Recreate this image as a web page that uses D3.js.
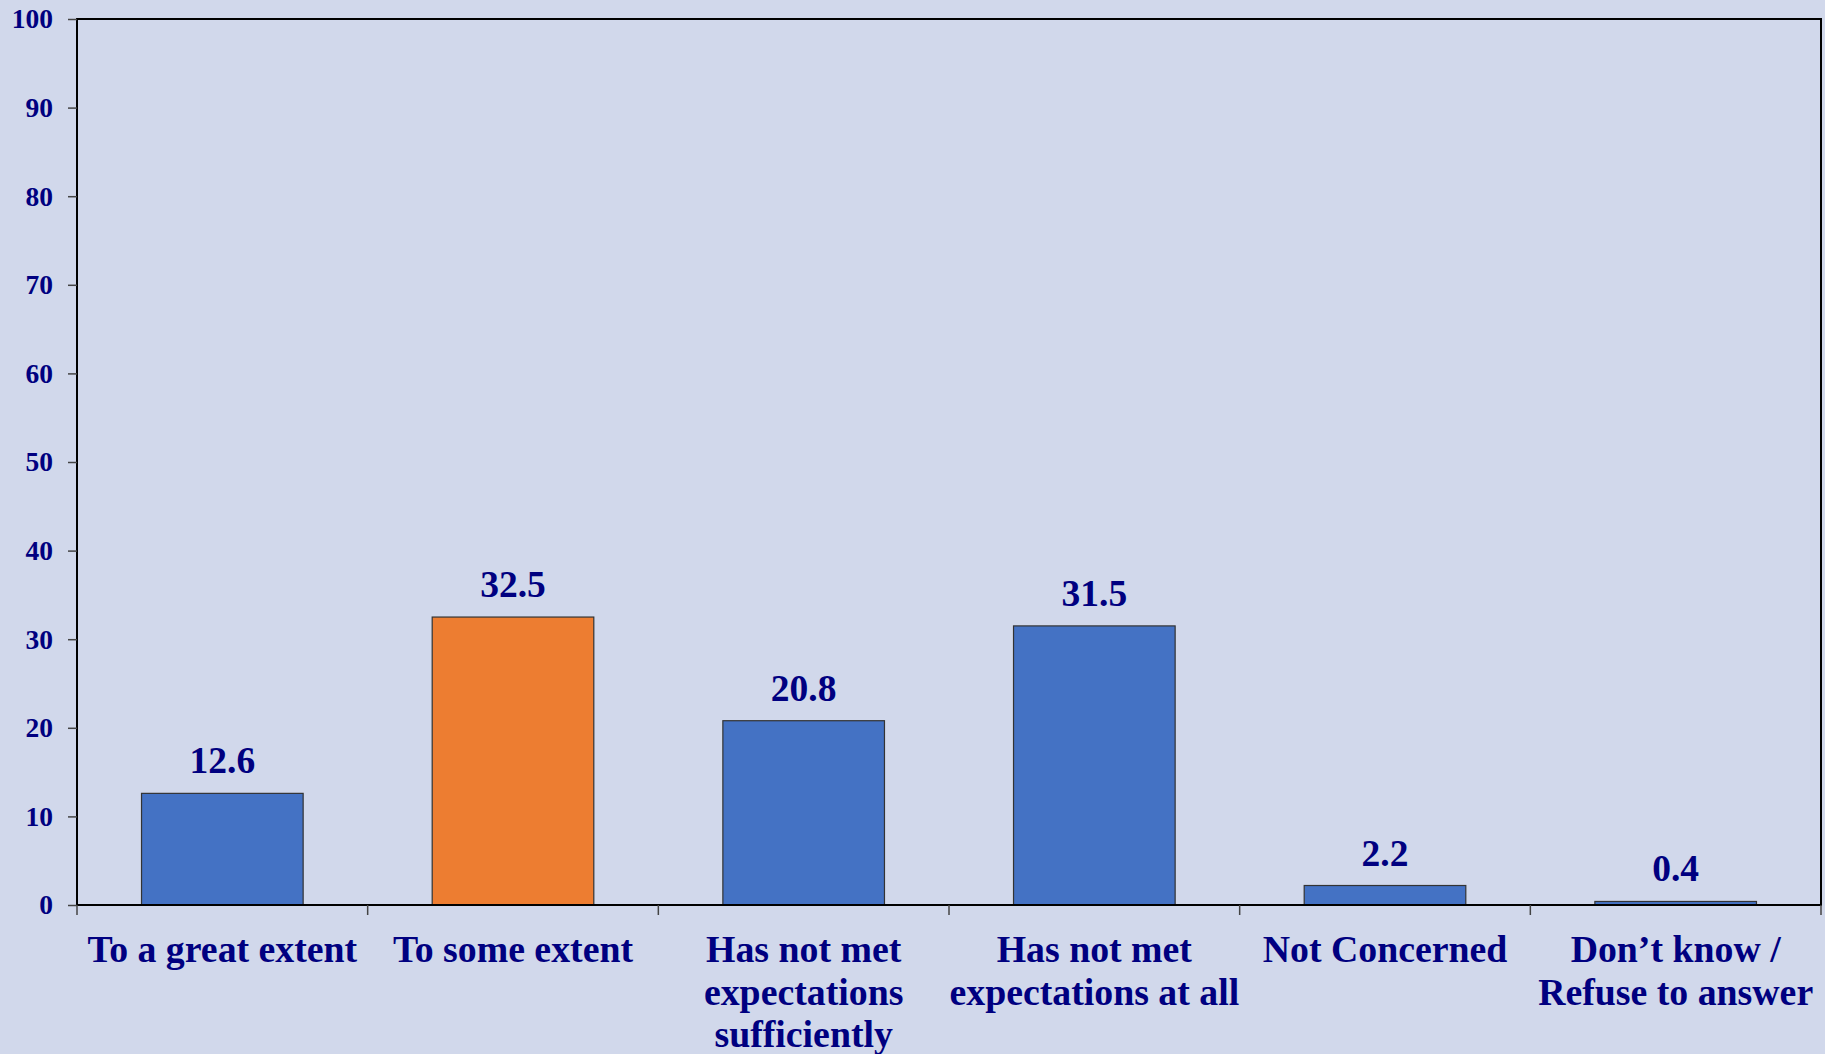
<!DOCTYPE html>
<html><head><meta charset="utf-8">
<script src="https://cdn.jsdelivr.net/npm/d3@7"></script>
<style>
html,body{margin:0;padding:0;background:#D1D8EB;}
svg{display:block;}
</style></head><body>
<svg id="chart" width="1825" height="1054"></svg>
<script>
const categories = [
  ["To a great extent"],
  ["To some extent"],
  ["Has not met", "expectations", "sufficiently"],
  ["Has not met", "expectations at all"],
  ["Not Concerned"],
  ["Don\u2019t know /", "Refuse to answer"]
];
const values = [12.6, 32.5, 20.8, 31.5, 2.2, 0.4];
const barColors = ["#4472C4", "#ED7D31", "#4472C4", "#4472C4", "#4472C4", "#4472C4"];
const yTicks = [0, 10, 20, 30, 40, 50, 60, 70, 80, 90, 100];

const W = 1825, H = 1054;
const m = {left: 77, right: 4, top: 19, bottom: 149};
const svg = d3.select("#chart");
const font = "'Liberation Serif','Times New Roman',serif";
const navy = "#000080";

const x = d3.scaleBand().domain(d3.range(values.length))
  .range([m.left, W - m.right]).paddingInner(0.444).paddingOuter(0.222);
const xb = d3.scaleBand().domain(d3.range(values.length)).range([m.left, W - m.right]);
const y = d3.scaleLinear().domain([0, 100]).range([H - m.bottom, m.top]);

svg.append("rect").attr("width", W).attr("height", H).attr("fill", "#D1D8EB");

// bars
svg.selectAll(".bar").data(values).join("rect")
  .attr("x", (d, i) => x(i)).attr("width", x.bandwidth())
  .attr("y", d => y(d)).attr("height", d => y(0) - y(d))
  .attr("fill", (d, i) => barColors[i])
  .attr("stroke", "#333").attr("stroke-width", 1.2);

// frame
svg.append("rect").attr("x", m.left).attr("y", m.top)
  .attr("width", W - m.right - m.left).attr("height", y(0) - m.top)
  .attr("fill", "none").attr("stroke", "#000").attr("stroke-width", 2);

// y axis
const ya = svg.append("g").attr("transform", `translate(${m.left},0)`)
  .call(d3.axisLeft(y).tickValues(yTicks).tickSize(9).tickPadding(15));
ya.select(".domain").remove();
ya.selectAll(".tick line").attr("stroke", "#444").attr("stroke-width", 1.5);
ya.selectAll(".tick text").attr("fill", navy).attr("font-family", font)
  .attr("font-weight", "bold").attr("font-size", 27.5);

// x axis category ticks at boundaries
const bounds = d3.range(values.length + 1).map(i => i < values.length ? xb(i) : xb(values.length - 1) + xb.bandwidth());
svg.selectAll(".xt").data(bounds).join("line")
  .attr("x1", d => d).attr("x2", d => d)
  .attr("y1", y(0)).attr("y2", y(0) + 10)
  .attr("stroke", "#444").attr("stroke-width", 1.5);

// value labels
svg.selectAll(".val").data(values).join("text")
  .attr("x", (d, i) => x(i) + x.bandwidth() / 2)
  .attr("y", d => y(d) - 20)
  .attr("text-anchor", "middle").attr("fill", navy)
  .attr("font-family", font).attr("font-weight", "bold").attr("font-size", 37.5)
  .text(d => d.toFixed(1));

// category labels
const cl = svg.selectAll(".cat").data(categories).join("text")
  .attr("text-anchor", "middle").attr("fill", navy)
  .attr("font-family", font).attr("font-weight", "bold").attr("font-size", 37.8);
cl.each(function(lines, i) {
  const t = d3.select(this);
  lines.forEach((l, j) => {
    t.append("tspan").attr("x", xb(i) + xb.bandwidth() / 2)
      .attr("y", y(0) + 57 + j * 42.5).text(l);
  });
});
</script>
</body></html>
